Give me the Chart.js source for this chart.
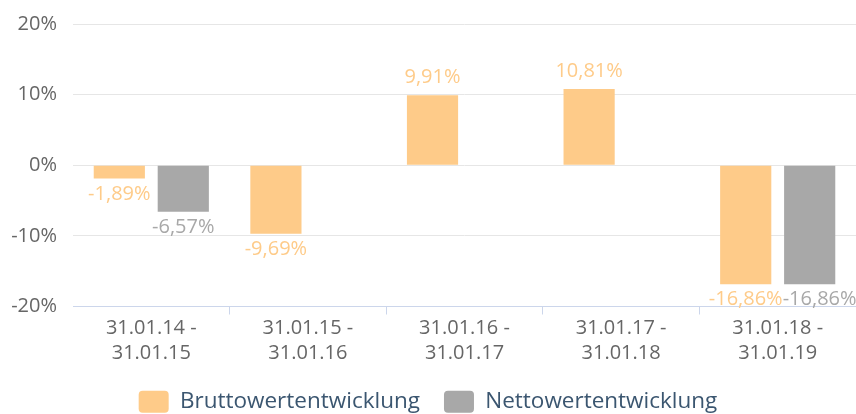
<!DOCTYPE html>
<html>
<head>
<meta charset="utf-8">
<script src="https://cdn.jsdelivr.net/npm/chart.js@4.4.1/dist/chart.umd.min.js"></script>
<style>
html,body{margin:0;padding:0;background:#fff;overflow:hidden;}
#wrap{width:856px;height:414px;position:relative;overflow:hidden;}
</style>
</head>
<body>
<div id="wrap"><canvas id="c" width="856" height="423"></canvas></div>
<script>
const categories = [
  ['31.01.14 -', '31.01.15'],
  ['31.01.15 -', '31.01.16'],
  ['31.01.16 -', '31.01.17'],
  ['31.01.17 -', '31.01.18'],
  ['31.01.18 -', '31.01.19']
];
const brutto = [-1.89, -9.69, 9.91, 10.81, -16.86];
const netto = [-6.57, null, null, null, -16.86];
const seriesNames = ['Bruttowertentwicklung', 'Nettowertentwicklung'];
const yTicks = [-20, -10, 0, 10, 20];

const ORANGE = '#fecb89';
const GRAY = '#a8a8a8';
const FONT = '"Open Sans", sans-serif';

const fmt = v => v.toFixed(2).replace('.', ',') + '%';

const dataLabels = {
  id: 'dataLabels',
  afterDatasetsDraw(chart) {
    const ctx = chart.ctx;
    ctx.save();
    ctx.font = '20px ' + FONT;
    ctx.textBaseline = 'alphabetic';
    ctx.textAlign = 'left';
    const labels = [];
    chart.data.datasets.forEach((ds, di) => {
      const meta = chart.getDatasetMeta(di);
      meta.data.forEach((el, i) => {
        const v = ds.data[i];
        if (v === null || v === undefined) return;
        const text = fmt(v);
        const w = ctx.measureText(text).width;
        const base = v < 0 ? el.y + 21 : el.y - 12;
        labels.push({text, w, x: el.x - w / 2, base, color: ds.labelColor, cat: i});
      });
    });
    labels.sort((a, b) => a.x - b.x);
    for (let i = 1; i < labels.length; i++) {
      for (let j = 0; j < i; j++) {
        const a = labels[j], b = labels[i];
        if (Math.abs(a.base - b.base) < 18 && b.x < a.x + a.w) {
          b.x = a.x + a.w;
        }
      }
    }
    labels.forEach(l => {
      ctx.fillStyle = l.color;
      ctx.fillText(l.text, l.x, l.base);
    });
    ctx.restore();
  }
};

new Chart(document.getElementById('c'), {
  type: 'bar',
  data: {
    labels: categories,
    datasets: [
      {label: seriesNames[0], data: brutto, backgroundColor: ORANGE, labelColor: ORANGE,
       categoryPercentage: 0.817, barPercentage: 0.8},
      {label: seriesNames[1], data: netto, backgroundColor: GRAY, labelColor: GRAY,
       categoryPercentage: 0.817, barPercentage: 0.8}
    ]
  },
  options: {
    responsive: false,
    animation: false,
    devicePixelRatio: 1,
    layout: {padding: {top: 24, right: 0, left: 0, bottom: 0}},
    plugins: {
      tooltip: {enabled: false},
      legend: {
        position: 'bottom',
        labels: {
          font: {family: FONT, size: 22.5},
          color: '#3b5670',
          boxWidth: 30,
          boxHeight: 22,
          useBorderRadius: true,
          borderRadius: 4,
          padding: 24
        }
      }
    },
    scales: {
      x: {
        grid: {
          offset: true,
          drawOnChartArea: false,
          drawTicks: true,
          tickLength: 8,
          color: ctx => (ctx.index === 0 || ctx.index === categories.length) ? 'rgba(0,0,0,0)' : '#ccd6eb'
        },
        border: {display: true, color: '#ccd6eb', width: 1},
        ticks: {
          font: {family: FONT, size: 20, lineHeight: 1.25},
          color: '#666666',
          padding: 1,
          maxRotation: 0,
          autoSkip: false
        }
      },
      y: {
        min: yTicks[0],
        max: yTicks[yTicks.length - 1],
        afterBuildTicks: scale => { scale.ticks = yTicks.map(v => ({value: v})); },
        afterFit: scale => { scale.width = 73; scale.paddingTop = 0; scale.paddingBottom = 0; },
        grid: {
          drawTicks: false,
          color: ctx => (ctx.tick && ctx.tick.value === yTicks[0]) ? 'rgba(0,0,0,0)' : '#e6e6e6'
        },
        border: {display: false},
        ticks: {
          font: {family: FONT, size: 20},
          color: '#666666',
          padding: 16,
          callback: v => v + '%'
        }
      }
    }
  },
  plugins: [dataLabels]
});
</script>
</body>
</html>
